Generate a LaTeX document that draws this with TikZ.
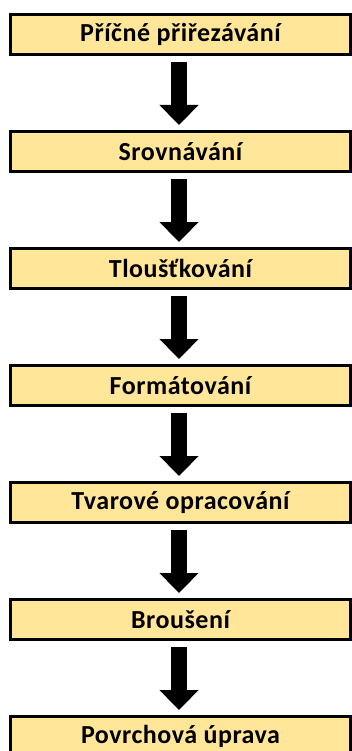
\documentclass[tikz,border=0pt]{standalone}
\usepackage{fontspec}
\setmainfont{Carlito}
\newfontfamily\boxfont[LetterSpace=2]{Carlito}
\usetikzlibrary{arrows.meta}
\definecolor{boxfill}{HTML}{FFE699}
\tikzset{
  stepbox/.style={draw=black, line width=3pt, fill=boxfill, minimum width=340pt, minimum height=40pt, inner sep=0pt, font=\boxfont\fontsize{26pt}{30pt}\selectfont\bfseries},
  bigarrow/.style={line width=16pt, -{Triangle[width=38pt,length=20pt]}, shorten <=6pt, shorten >=5pt}
}
\begin{document}
\begin{tikzpicture}[x=1pt,y=1pt]
\useasboundingbox (0,0) rectangle (352,-751);
\node[stepbox] (n1) at (180.5,-34.5) {Příčné přiřezávání};
\node[stepbox] (n2) at (180.5,-151.5) {Srovnávání};
\node[stepbox] (n3) at (180.5,-268.5) {Tloušťkování};
\node[stepbox] (n4) at (180.5,-385.5) {Formátování};
\node[stepbox] (n5) at (180.5,-502.5) {Tvarové opracování};
\node[stepbox] (n6) at (180.5,-619.5) {Broušení};
\node[stepbox] (n7) at (180.5,-736.5) {Povrchová úprava};
\foreach \a/\b in {n1/n2,n2/n3,n3/n4,n4/n5,n5/n6,n6/n7}{
  \draw[bigarrow] ([xshift=-1.5pt]\a.south) -- ([xshift=-1.5pt]\b.north);
}
\end{tikzpicture}
\end{document}
